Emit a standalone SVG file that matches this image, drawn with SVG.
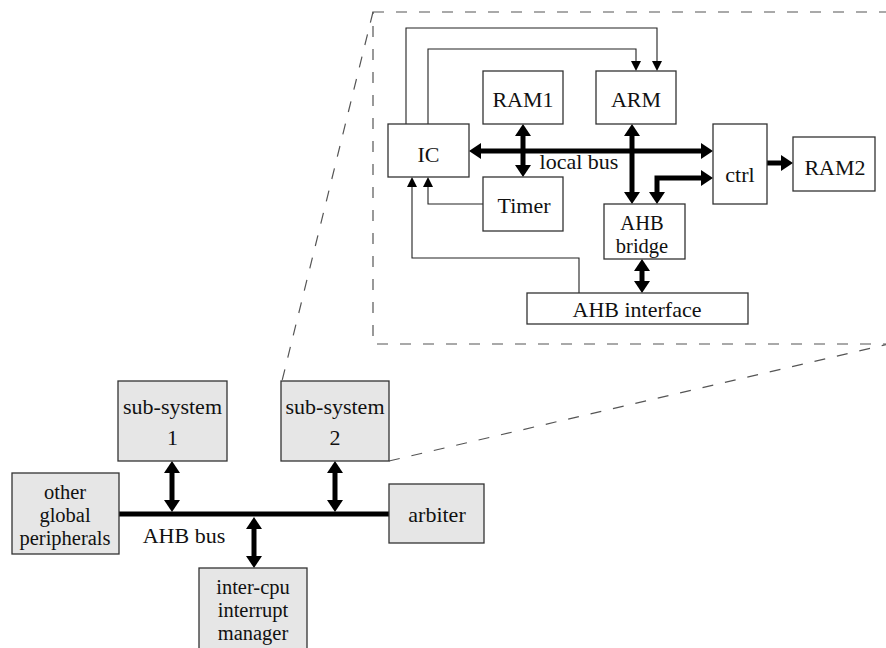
<svg xmlns="http://www.w3.org/2000/svg" width="886" height="648" viewBox="0 0 886 648">
<defs>
<style>
text{font-family:"Liberation Serif","Times New Roman",serif;font-size:22px;fill:#111;text-anchor:middle}
.ml{font-size:20.5px}
.box{fill:#fff;stroke:#333;stroke-width:1.3}
.gbox{fill:#e6e6e6;stroke:#333;stroke-width:1.3}
.thick{stroke:#000;stroke-width:5;fill:none}
.thin{stroke:#222;stroke-width:1.1;fill:none}
.dash{stroke:#555;stroke-width:1.2;fill:none;stroke-dasharray:11 12}
</style>
<marker id="ah" markerWidth="12" markerHeight="16" refX="0" refY="8" orient="auto-start-reverse" markerUnits="userSpaceOnUse"><path d="M0,0 L12,8 L0,16 z" fill="#000"/></marker>
<marker id="at" markerWidth="10" markerHeight="10" refX="0" refY="5" orient="auto-start-reverse" markerUnits="userSpaceOnUse"><path d="M0,0 L10,5 L0,10 z" fill="#000"/></marker>
</defs>
<rect width="886" height="648" fill="#fff"/>
<g id="zoom-frame">
<rect class="dash" x="373" y="12" width="520" height="332"/>
<line class="dash" x1="373" y1="12" x2="282" y2="381"/>
<line class="dash" x1="389" y1="461" x2="893" y2="343"/>
</g>
<g id="connectors">
<line class="thick" x1="481" y1="151" x2="701" y2="151" marker-start="url(#ah)" marker-end="url(#ah)"/>
<line class="thick" x1="523" y1="136" x2="523" y2="165" marker-start="url(#ah)" marker-end="url(#ah)"/>
<line class="thick" x1="632" y1="136" x2="632" y2="192" marker-start="url(#ah)" marker-end="url(#ah)"/>
<path class="thick" d="M657,192 V178 H701" marker-start="url(#ah)" marker-end="url(#ah)"/>
<line class="thick" x1="767" y1="163" x2="781" y2="163" marker-end="url(#ah)"/>
<line class="thick" x1="642" y1="271" x2="642" y2="281" marker-start="url(#ah)" marker-end="url(#ah)"/>
<path class="thin" d="M406,124 V28 H657 V61" marker-end="url(#at)"/>
<path class="thin" d="M428,124 V49 H636 V61" marker-end="url(#at)"/>
<path class="thin" d="M483,204 H428 V187" marker-end="url(#at)"/>
<path class="thin" d="M579,293 V258 H412 V187" marker-end="url(#at)"/>
<line class="thick" x1="119" y1="514" x2="389" y2="514"/>
<line class="thick" x1="172" y1="473" x2="172" y2="500" marker-start="url(#ah)" marker-end="url(#ah)"/>
<line class="thick" x1="335" y1="473" x2="335" y2="500" marker-start="url(#ah)" marker-end="url(#ah)"/>
<line class="thick" x1="254" y1="529" x2="254" y2="556" marker-start="url(#ah)" marker-end="url(#ah)"/>
<text x="579" y="169">local bus</text>
<text x="184" y="543">AHB bus</text>
</g>
<g id="RAM1"><rect class="box" x="483" y="71" width="80" height="53"/><text x="523" y="107">RAM1</text></g>
<g id="ARM"><rect class="box" x="596" y="71" width="80" height="53"/><text x="636" y="107">ARM</text></g>
<g id="IC"><rect class="box" x="388" y="124" width="81" height="53"/><text x="428.5" y="161.5">IC</text></g>
<g id="ctrl"><rect class="box" x="713" y="124" width="54" height="80"/><text x="740" y="181.5">ctrl</text></g>
<g id="RAM2"><rect class="box" x="793" y="137" width="82" height="54"/><text x="835" y="175">RAM2</text></g>
<g id="Timer"><rect class="box" x="483" y="177" width="80" height="54"/><text x="524" y="213">Timer</text></g>
<g id="AHB-bridge"><rect class="box" x="604" y="204" width="81" height="55"/><text class="ml" x="642" y="229.5">AHB</text><text class="ml" x="642" y="252.5">bridge</text></g>
<g id="AHB-interface"><rect class="box" x="527" y="293" width="221" height="31"/><text x="637" y="317">AHB interface</text></g>
<g id="sub-system-1"><rect class="gbox" x="118" y="381" width="109" height="80"/><text x="172.5" y="414">sub-system</text><text x="172.5" y="445">1</text></g>
<g id="sub-system-2"><rect class="gbox" x="281" y="381" width="108" height="80"/><text x="335" y="414">sub-system</text><text x="335" y="445">2</text></g>
<g id="other-global-peripherals"><rect class="gbox" x="12" y="473" width="107" height="81"/><text class="ml" x="65" y="499">other</text><text class="ml" x="65" y="522">global</text><text class="ml" x="65" y="545">peripherals</text></g>
<g id="arbiter"><rect class="gbox" x="389" y="484" width="95" height="59"/><text x="437" y="521.5">arbiter</text></g>
<g id="inter-cpu-interrupt-manager"><rect class="gbox" x="199" y="568" width="108" height="82"/><text class="ml" x="253" y="594">inter-cpu</text><text class="ml" x="253" y="617">interrupt</text><text class="ml" x="253" y="640">manager</text></g>
</svg>
